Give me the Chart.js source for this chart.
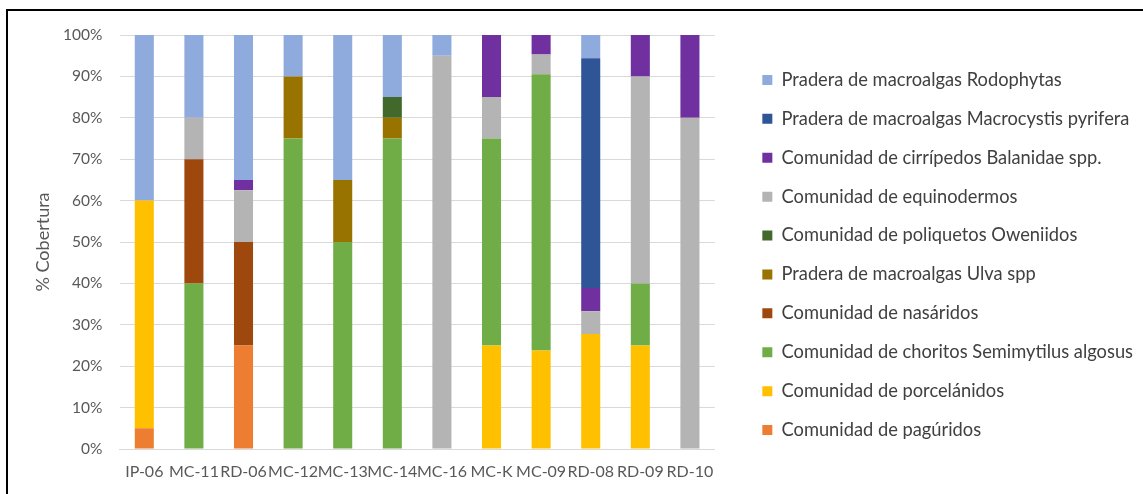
<!DOCTYPE html>
<html>
<head>
<meta charset="utf-8">
<script src="https://cdn.jsdelivr.net/npm/chart.js@4.4.1/dist/chart.umd.min.js"></script>
<style>
  html, body { margin: 0; padding: 0; background: #fff; }
  #wrap { position: relative; width: 1143px; height: 494px; overflow: hidden; }
  #frame { position: absolute; left: 6px; top: 9px; width: 2000px; height: 1000px;
           border-top: 2px solid #000; border-left: 2px solid #000; }
  canvas { position: absolute; left: 0; top: 0; }
</style>
</head>
<body>
<div id="wrap">
  <canvas id="mycanvas" width="1143" height="494"></canvas>
  <div id="frame"></div>
</div>
<script>
// estaciones
var estaciones = ["IP-06", "MC-11", "RD-06", "MC-12", "MC-13", "MC-14", "MC-16", "MC-K", "MC-09", "RD-08", "RD-09", "RD-10"];
var yTicks = [0, 10, 20, 30, 40, 50, 60, 70, 80, 90, 100];

// % cobertura por comunidad (de abajo hacia arriba en la pila)
var paguridos    = [5, 0, 25, 0, 0, 0, 0, 0, 0, 0, 0, 0];
var porcelanidos = [55, 0, 0, 0, 0, 0, 0, 25, 23.8, 27.8, 25, 0];
var choritos     = [0, 40, 0, 75, 50, 75, 0, 50, 66.7, 0, 15, 0];
var nasaridos    = [0, 30, 25, 0, 0, 0, 0, 0, 0, 0, 0, 0];
var ulva         = [0, 0, 0, 15, 15, 5, 0, 0, 0, 0, 0, 0];
var poliquetos   = [0, 0, 0, 0, 0, 5, 0, 0, 0, 0, 0, 0];
var equinodermos = [0, 10, 12.5, 0, 0, 0, 95, 10, 4.8, 5.5, 50, 80];
var cirripedos   = [0, 0, 2.5, 0, 0, 0, 0, 15, 4.7, 5.6, 10, 20];
var macrocystis  = [0, 0, 0, 0, 0, 0, 0, 0, 0, 55.5, 0, 0];
var rodophytas   = [40, 20, 35, 10, 35, 15, 5, 0, 0, 5.6, 0, 0];

function serie(label, data, color) {
  return { label: label, data: data, backgroundColor: color, borderWidth: 0,
           categoryPercentage: 0.4, barPercentage: 0.96 };
}

var chartdata = {
  labels: estaciones,
  datasets: [
    serie("Comunidad de pagúridos", paguridos, "#ED7D31"),
    serie("Comunidad de porcelánidos", porcelanidos, "#FFC000"),
    serie("Comunidad de choritos Semimytilus algosus", choritos, "#70AD47"),
    serie("Comunidad de nasáridos", nasaridos, "#9E480E"),
    serie("Pradera de macroalgas Ulva spp", ulva, "#997300"),
    serie("Comunidad de poliquetos Oweniidos", poliquetos, "#43682B"),
    serie("Comunidad de equinodermos", equinodermos, "#B4B4B4"),
    serie("Comunidad de cirrípedos Balanidae spp.", cirripedos, "#7030A0"),
    serie("Pradera de macroalgas Macrocystis pyrifera", macrocystis, "#2F5597"),
    serie("Pradera de macroalgas Rodophytas", rodophytas, "#8FAADC")
  ]
};

var ctx = document.getElementById("mycanvas");

var grafico = new Chart(ctx, {
  type: 'bar',
  data: chartdata,
  options: {
    responsive: false,
    animation: false,
    layout: { padding: { left: 28, top: 26, right: 0, bottom: 10 } },
    scales: {
      x: {
        stacked: true,
        grid: { display: false, drawTicks: false },
        border: { display: true, color: "#D9D9D9" },
        ticks: { color: "#595959", font: { family: "Lato", size: 16 }, autoSkip: false, maxRotation: 0, padding: 13 },
        afterFit: function(s) { s.height = 35; }
      },
      y: {
        stacked: true,
        min: 0, max: 100,
        afterBuildTicks: function(s) { s.ticks = yTicks.map(function(v) { return { value: v }; }); },
        grid: { color: "#D9D9D9", drawTicks: false },
        border: { display: false },
        ticks: { color: "#595959", font: { family: "Lato", size: 15.5 }, padding: 17,
                 callback: function(v) { return v + "%"; } },
        title: { display: true, text: "% Cobertura", color: "#595959", font: { family: "Lato", size: 18 } },
        afterFit: function(s) { s.width = 91.5; }
      },
      hueco: {
        position: 'right',
        display: true,
        grid: { display: false },
        border: { display: false },
        ticks: { display: false },
        afterFit: function(s) { s.width = 27; }
      }
    },
    plugins: {
      title: {
        display: true, text: "", fullSize: false,
        font: { size: 1, lineHeight: 1 }, padding: { top: 0, bottom: 8 }
      },
      legend: {
        position: 'right',
        reverse: true,
        maxWidth: 440,
        labels: { boxWidth: 10, boxHeight: 10, padding: 20.6, color: "#404040",
                  font: { family: "Lato", size: 18.3 } }
      },
      tooltip: { enabled: false }
    }
  }
});
</script>
</body>
</html>
